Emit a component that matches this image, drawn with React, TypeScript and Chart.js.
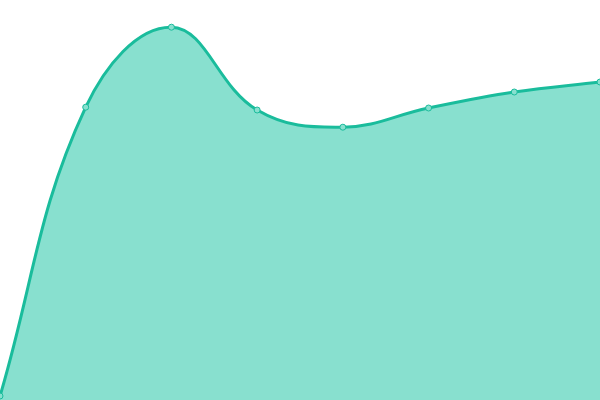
import { useEffect, useRef } from "react"
import { Chart, registerables } from "chart.js"

Chart.register(...registerables)

const labels = ["1", "2", "3", "4", "5", "6", "7", "8"]
const values = [1, 73.2, 93.2, 72.5, 68.2, 73, 77, 79.5]

export default function App() {
  const chartRef = useRef<HTMLCanvasElement>(null)
  const chartInstance = useRef<Chart | null>(null)

  useEffect(() => {
    document.body.style.margin = "0"
    if (!chartRef.current) return

    if (chartInstance.current) {
      chartInstance.current.destroy()
    }

    const ctx = chartRef.current.getContext("2d")
    if (!ctx) return

    chartInstance.current = new Chart(ctx, {
      type: "line",
      data: {
        labels,
        datasets: [
          {
            data: values,
            fill: true,
            borderColor: "#1abc9c",
            backgroundColor: "#88e0cf",
            borderWidth: 3,
            tension: 0.4,
            pointRadius: 3,
            pointBorderWidth: 1,
            pointBackgroundColor: "#88e0cf",
            pointBorderColor: "#1abc9c",
          },
        ],
      },
      options: {
        animation: false,
        responsive: true,
        maintainAspectRatio: false,
        layout: { padding: 0, autoPadding: false },
        plugins: {
          legend: { display: false },
          tooltip: { enabled: false },
        },
        scales: {
          x: { display: false, offset: false },
          y: { display: false, min: 0, max: 100 },
        },
      },
    })

    return () => {
      if (chartInstance.current) {
        chartInstance.current.destroy()
        chartInstance.current = null
      }
    }
  }, [])

  return (
    <div style={{ position: "fixed", left: 0, top: 0, width: 600, height: 400 }}>
      <canvas ref={chartRef} />
    </div>
  )
}
